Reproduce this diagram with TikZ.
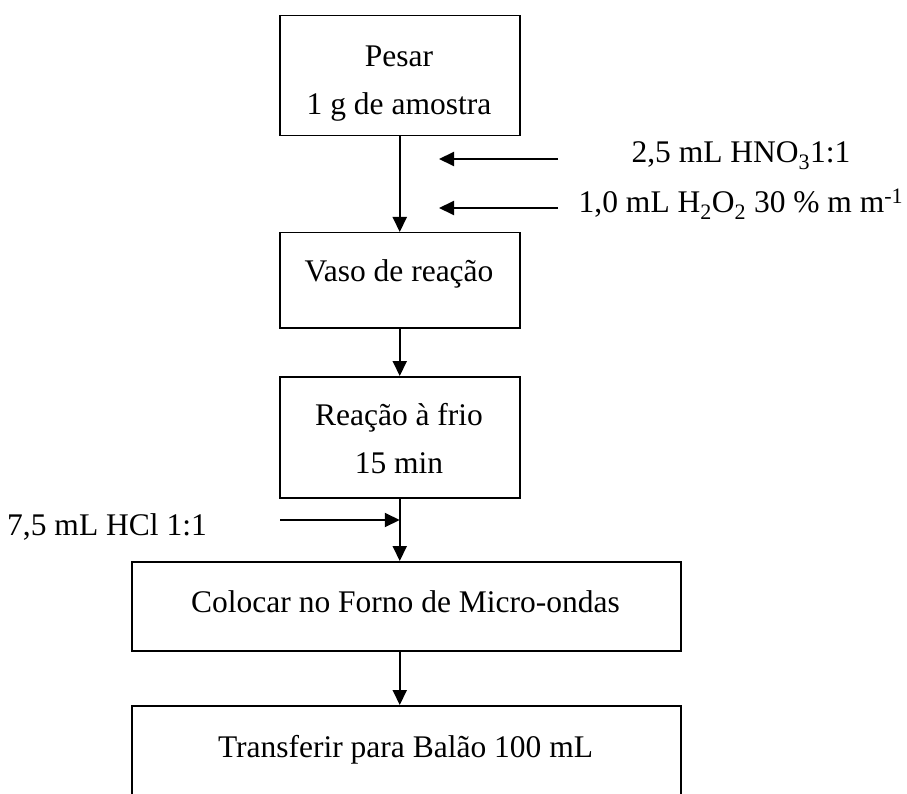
\documentclass[tikz,border=0pt]{standalone}
\usepackage{fontspec}
\setmainfont{Liberation Serif}
\usetikzlibrary{arrows.meta,calc}
\begin{document}
\begin{tikzpicture}[x=1pt,y=-1pt,
  box/.style={draw,line width=1.5pt,inner sep=0pt,anchor=north west},
  txt/.style={font=\fontsize{31.5}{48}\selectfont,anchor=base,inner sep=0pt},
  flow/.style={line width=2pt,-{Triangle[length=15pt,width=14pt]}}]
\clip (0,0) rectangle (907,794);
% boxes
\node[box,minimum width=240pt,minimum height=120pt] (b1) at (279,15) {};
\node[box,minimum width=240pt,minimum height=95pt] (b2) at (279,232) {};
\node[box,minimum width=240pt,minimum height=121pt] (b3) at (279,376) {};
\node[box,minimum width=549pt,minimum height=89pt] (b4) at (131,561) {};
\node[box,minimum width=549pt,minimum height=120pt] (b5) at (131,705) {};
% box texts
\node[txt] (t1a) at (399,67) {Pesar};
\node[txt] (t1b) at (399,115) {1 g de amostra};
\node[txt] (t2) at (399,281) {Vaso de reação};
\node[txt] (t3a) at (399,425) {Reação à frio};
\node[txt] (t3b) at (399,473) {15 min};
\node[txt] (t4) at (405.5,612) {Colocar no Forno de Micro-ondas};
\node[txt] (t5) at (405.5,757) {Transferir para Balão 100 mL};
% reagent texts
\node[txt] (r1) at (741,163) {2,5 mL HNO\textsubscript{3}1:1};
\node[txt] (r2) at (741,213) {1,0 mL H\textsubscript{2}O\textsubscript{2} 30 \% m m\textsuperscript{-1}};
\node[txt] (r3) at (107,535) {7,5 mL HCl 1:1};
% main flow
\draw[flow] (b1.south) -- (b2.north);
\draw[flow] (b2.south) -- (b3.north);
\draw[flow] (b3.south) -- (b3.south |- b4.north);
\draw[flow] (b3.south |- b4.south) -- (b3.south |- b5.north);
% reagent arrows
\coordinate (a1s) at (558,159);
\coordinate (a1e) at (439,159);
\coordinate (a2s) at (558,208);
\coordinate (a2e) at (439,208);
\coordinate (a3s) at (280,520);
\coordinate (a3e) at (b3.south |- a3s);
\draw[flow] (a1s) -- (a1e);
\draw[flow] (a2s) -- (a2e);
\draw[flow] (a3s) -- (a3e);
\end{tikzpicture}
\end{document}
